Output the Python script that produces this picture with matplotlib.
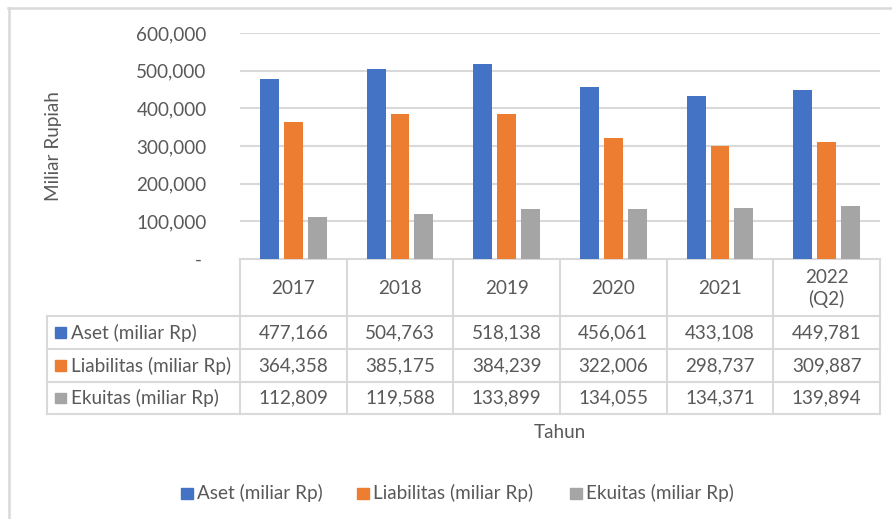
import matplotlib
matplotlib.use("Agg")
import matplotlib.pyplot as plt
from matplotlib.patches import Rectangle

# data (miliar Rp)
years = ["2017", "2018", "2019", "2020", "2021", "2022\n(Q2)"]
aset = [477166, 504763, 518138, 456061, 433108, 449781]
liabilitas = [364358, 385175, 384239, 322006, 298737, 309887]
ekuitas = [112809, 119588, 133899, 134055, 134371, 139894]
series_names = ["Aset (miliar Rp)", "Liabilitas (miliar Rp)", "Ekuitas (miliar Rp)"]
y_ticks = [0, 100000, 200000, 300000, 400000, 500000, 600000]

COLORS = ["#4472C4", "#ED7D31", "#A5A5A5"]
TEXT = "#595959"
GRID = "#D9D9D9"
FONT = "Lato"
FS = 13.6

W, H = 892, 519
plt.rcParams["font.family"] = [FONT, "DejaVu Sans"]

fig = plt.figure(figsize=(W / 100, H / 100), dpi=100)

# overlay in pixel coordinates for the frame, table and legend
ov = fig.add_axes([0, 0, 1, 1])
ov.set_xlim(0, W)
ov.set_ylim(H, 0)
ov.axis("off")

# plot area
left, right, top, base = 240, 880, 33, 259
ax = fig.add_axes([left / W, (H - base) / H, (right - left) / W, (base - top) / H])
series = [aset, liabilitas, ekuitas]
offsets = [-0.224, 0.0, 0.224]
for vals, off, col, name in zip(series, offsets, COLORS, series_names):
    ax.bar([i + off for i in range(len(years))], vals, width=0.178, color=col,
           label=name, zorder=3)
ax.set_xlim(-0.5, len(years) - 0.5)
ax.set_ylim(0, 600000)
ax.set_yticks(y_ticks)
ax.set_yticklabels(["- "] + [f"{v:,}" for v in y_ticks[1:]])
ax.tick_params(axis="y", length=0, pad=24, labelsize=FS, labelcolor=TEXT)
ax.set_xticks([])
ax.grid(axis="y", color=GRID, linewidth=1.5, zorder=0)
for s in ax.spines.values():
    s.set_visible(False)

# axis title placed in pixel space
ov.text(53, 146, "Miliar Rupiah", rotation=90, ha="center", va="center",
        fontsize=FS, color=TEXT)

# chart frame (top and left only visible)
ov.plot([8, W], [8, 8], color=GRID, lw=1.8)
ov.plot([9, 9], [8, H], color=GRID, lw=1.8)

# data table
col_w = (right - left) / len(years)
tab_left = 47
rows_y = [316, 349, 382, 414]
lw = 1.5
ov.plot([left, right], [base, base], color=GRID, lw=lw)
for y in rows_y:
    ov.plot([tab_left, right], [y, y], color=GRID, lw=lw)
ov.plot([tab_left, tab_left], [rows_y[0], rows_y[-1]], color=GRID, lw=lw)
for i in range(len(years) + 1):
    x = left + i * col_w
    ov.plot([x, x], [base, rows_y[-1]], color=GRID, lw=lw)

for i, yr in enumerate(years):
    ov.text(left + (i + 0.5) * col_w, (base + rows_y[0]) / 2 + 1, yr,
            ha="center", va="center", fontsize=FS, color=TEXT, linespacing=1.3)

for r, (vals, col, name) in enumerate(zip(series, COLORS, series_names)):
    yc = (rows_y[r] + rows_y[r + 1]) / 2
    ov.add_patch(Rectangle((55, yc - 5.5), 10.5, 10.5, color=col))
    ov.text(71, yc, name, ha="left", va="center", fontsize=FS, color=TEXT)
    for i, v in enumerate(vals):
        ov.text(left + (i + 0.5) * col_w, yc, f"{v:,}", ha="center", va="center",
                fontsize=FS, color=TEXT)

ov.text(560, 433, "Tahun", ha="center", va="center", fontsize=FS, color=TEXT)

# legend
leg_x = [181, 357, 570]
for x, col, name in zip(leg_x, COLORS, series_names):
    ov.add_patch(Rectangle((x, 487.5), 11.5, 11.5, color=col))
    ov.text(x + 16, 493, name, ha="left", va="center", fontsize=FS, color=TEXT)

fig.savefig("out.png", dpi=100)
